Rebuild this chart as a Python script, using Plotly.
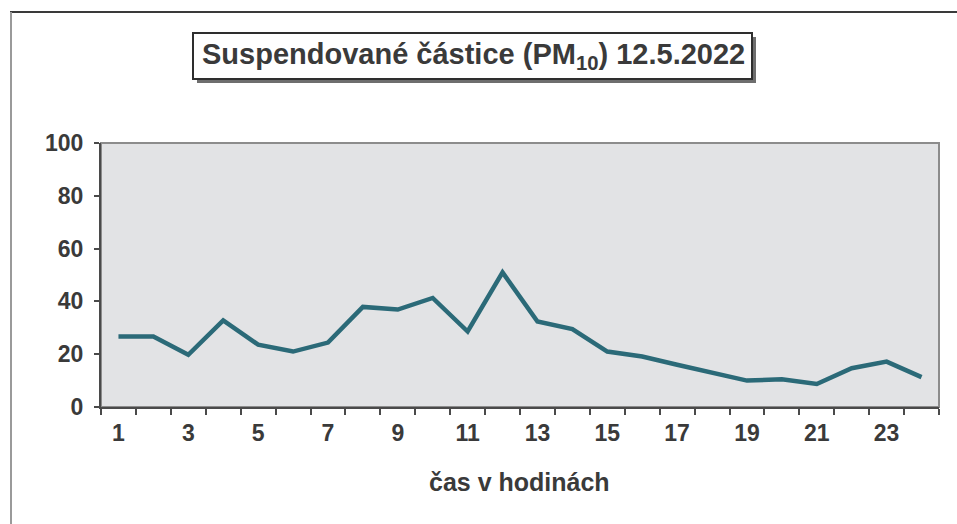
import plotly.graph_objects as go

# Hourly PM10 concentrations, 12 May 2022
hours = list(range(1, 25))
pm10 = [26.7, 26.7, 19.8, 32.8, 23.6, 21.0, 24.4, 37.9, 36.9, 41.3, 28.6, 51.0,
        32.4, 29.5, 21.0, 19.1, 16.0, 12.8, 10.0, 10.5, 8.7, 14.7, 17.2, 11.3]

x_tick_vals = list(range(1, 25, 2))
x_tick_text = [str(v) for v in x_tick_vals]
y_tick_vals = [0, 20, 40, 60, 80, 100]

title_text = "Suspendované částice (PM<sub>10</sub>) 12.5.2022"
x_title = "čas v hodinách"

W, H = 957, 524
ML, MR, MT, MB = 101, 18, 143, 117
PW, PH = W - ML - MR, H - MT - MB

def px_x(px):
    return (px - ML) / PW

def px_y(py):
    return (H - MB - py) / PH

TEXT = "#3a3a3a"
FONT = "Liberation Sans, Arial, sans-serif"

fig = go.Figure()
fig.add_trace(go.Scatter(
    x=hours, y=pm10, mode="lines",
    line=dict(color="#2b6a78", width=4.5),
    hoverinfo="x+y", showlegend=False,
))

shapes = [
    # plot-area frame (top/right lighter)
    dict(type="rect", xref="paper", yref="paper", x0=0, x1=1, y0=0, y1=1,
         line=dict(color="#8c8c8c", width=2), layer="below"),
    # title box shadow
    dict(type="rect", xref="paper", yref="paper",
         x0=px_x(197), x1=px_x(756), y0=px_y(83), y1=px_y(37),
         line=dict(width=0), fillcolor="#6e6e6e"),
    # title box
    dict(type="rect", xref="paper", yref="paper",
         x0=px_x(193), x1=px_x(752), y0=px_y(79), y1=px_y(33),
         line=dict(color="#2e2e2e", width=2), fillcolor="white"),
    # outer page frame
    dict(type="line", xref="paper", yref="paper",
         x0=px_x(10), x1=px_x(957), y0=px_y(12), y1=px_y(12),
         line=dict(color="#3a3a3a", width=2)),
    dict(type="line", xref="paper", yref="paper",
         x0=px_x(11), x1=px_x(11), y0=px_y(12), y1=px_y(524),
         line=dict(color="#9a9a9a", width=2)),
]

annotations = [
    dict(text="<b>" + title_text + "</b>", xref="paper", yref="paper",
         x=px_x(473), y=px_y(56), xanchor="center", yanchor="middle",
         showarrow=False, font=dict(family=FONT, size=29, color=TEXT)),
    dict(text="<b>" + x_title + "</b>", xref="paper", yref="paper",
         x=px_x(519), y=px_y(482), xanchor="center", yanchor="middle",
         showarrow=False, font=dict(family=FONT, size=25, color=TEXT)),
]

fig.update_layout(
    width=W, height=H,
    margin=dict(l=ML, r=MR, t=MT, b=MB),
    paper_bgcolor="white",
    plot_bgcolor="#e2e3e5",
    font=dict(family=FONT, size=23, color=TEXT),
    shapes=shapes,
    annotations=annotations,
    xaxis=dict(
        range=[0.5, 24.5], tickmode="array",
        tickvals=x_tick_vals, ticktext=["<b>%s</b>" % t for t in x_tick_text],
        ticks="", showgrid=False, zeroline=False,
        showline=True, linecolor="#4a4a4a", linewidth=2,
        ticklabelstandoff=4,
        minor=dict(tickmode="linear", tick0=0.5, dtick=1, ticks="outside",
                   ticklen=6, tickwidth=2, tickcolor="#4a4a4a", showgrid=False),
    ),
    yaxis=dict(
        range=[0, 100], tickmode="array", tickvals=y_tick_vals,
        ticktext=["<b>%d</b>" % v for v in y_tick_vals],
        ticks="outside", ticklen=5, tickwidth=2, tickcolor="#4a4a4a",
        showgrid=False, zeroline=False,
        showline=True, linecolor="#4a4a4a", linewidth=2,
        ticklabelstandoff=6,
    ),
)

fig.write_html("out.html")
